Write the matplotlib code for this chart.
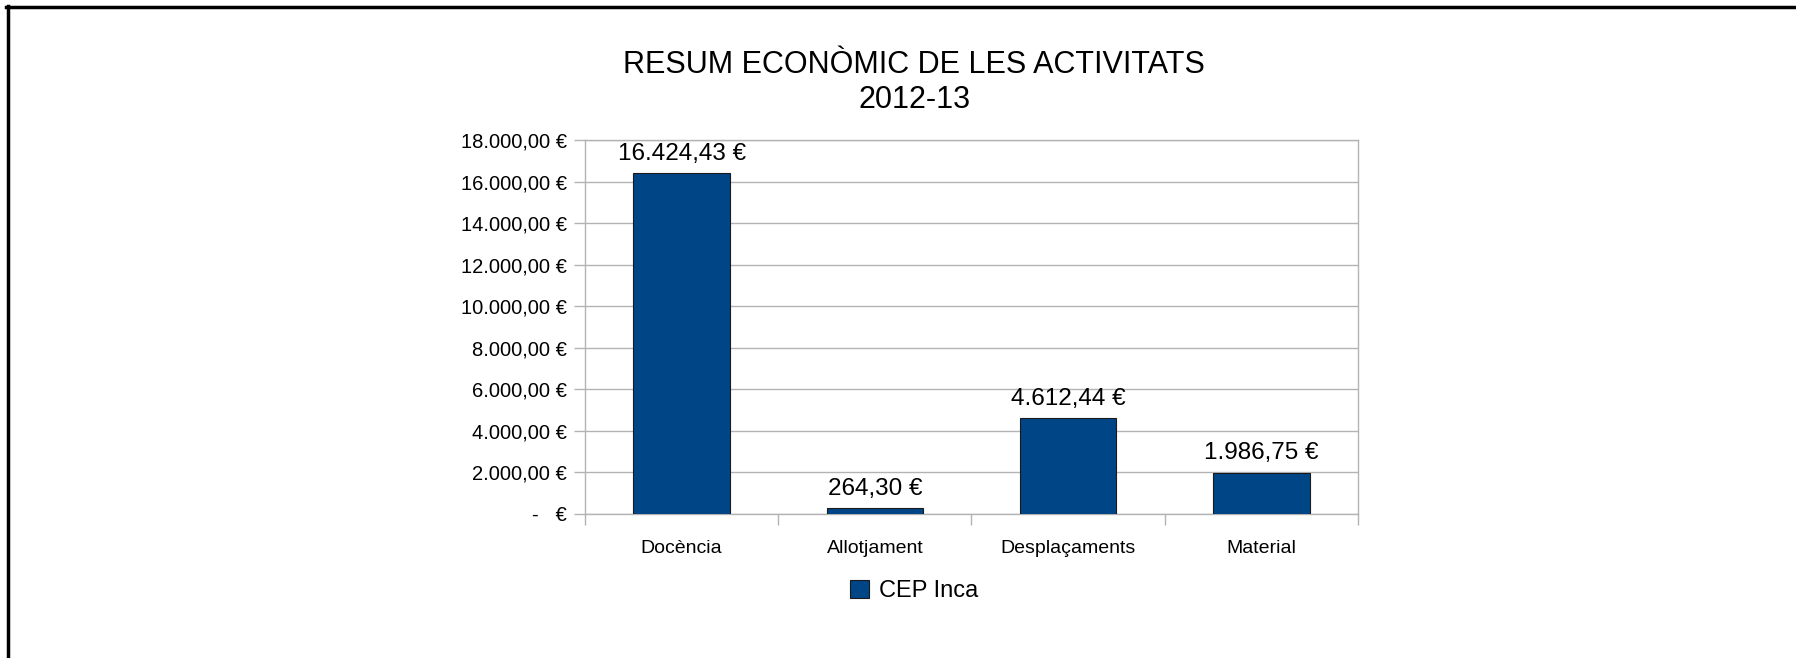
import matplotlib
matplotlib.use("Agg")
import matplotlib.pyplot as plt
from matplotlib.ticker import FuncFormatter, FixedLocator
from matplotlib.patches import Patch
import numpy as np

plt.rcParams['font.family'] = ['Liberation Sans', 'DejaVu Sans']

title = "RESUM ECONÒMIC DE LES ACTIVITATS\n2012-13"
categories = ["Docència", "Allotjament", "Desplaçaments", "Material"]
values = [16424.43, 264.30, 4612.44, 1986.75]
series_name = "CEP Inca"
y_ticks = [0, 2000, 4000, 6000, 8000, 10000, 12000, 14000, 16000, 18000]

bar_color = "#004586"
grid_color = "#b3b3b3"


def euro(v, pos=None):
    # catalan style: 16.424,43 €, zero shown as "-   €"
    if v == 0:
        return "-   €"
    s = f"{v:,.2f}"
    s = s.replace(",", "X").replace(".", ",").replace("X", ".")
    return s + " €"


fig = plt.figure(figsize=(17.96, 6.58), dpi=100)
ax = fig.add_axes([0.3257, 0.219, 0.4304, 0.568])

x = np.arange(len(categories))
bars = ax.bar(x, values, width=0.5, color=bar_color, edgecolor="#1a1a1a",
              linewidth=0.8, zorder=3)

for b, v in zip(bars, values):
    ax.annotate(euro(v), (b.get_x() + b.get_width() / 2, v),
                xytext=(0, 6), textcoords="offset points",
                ha="center", va="bottom", fontsize=17.5)

ax.set_xlim(-0.5, len(categories) - 0.5)
ax.set_ylim(0, 18000)
ax.yaxis.set_major_locator(FixedLocator(y_ticks))
ax.yaxis.set_major_formatter(FuncFormatter(euro))

# ticks between categories, labels centred under bars
ax.xaxis.set_major_locator(FixedLocator(np.arange(-0.5, len(categories), 1.0)))
ax.xaxis.set_major_formatter(FuncFormatter(lambda v, p: ""))
ax.xaxis.set_minor_locator(FixedLocator(x))
ax.set_xticklabels(categories, minor=True)
ax.tick_params(axis="x", which="minor", length=0, pad=19, labelsize=14)
ax.tick_params(axis="x", which="major", length=8, color=grid_color, width=1)
ax.tick_params(axis="y", length=8, color=grid_color, width=1, labelsize=14.5, pad=5)

ax.grid(axis="y", color=grid_color, linewidth=1, zorder=0)
for sp in ax.spines.values():
    sp.set_color(grid_color)
    sp.set_linewidth(1)

fig.text(0.509, 0.8746, title, ha="center", va="center", fontsize=22,
         linespacing=1.25)

handle = Patch(facecolor=bar_color, edgecolor="#1a1a1a", linewidth=0.8)
fig.legend([handle], [series_name], loc="center", bbox_to_anchor=(0.509, 0.102),
           frameon=False, fontsize=17, handlelength=0.8, handleheight=0.8,
           handletextpad=0.45)

# outer frame lines (left and top only are visible)
fig.add_artist(plt.Line2D([0.0045, 0.0045], [0, 0.991], color="black", lw=2.5,
                          transform=fig.transFigure))
fig.add_artist(plt.Line2D([0.0035, 1], [0.990, 0.990], color="black", lw=2.5,
                          transform=fig.transFigure))

fig.savefig("out.png", dpi=100, facecolor="white")
